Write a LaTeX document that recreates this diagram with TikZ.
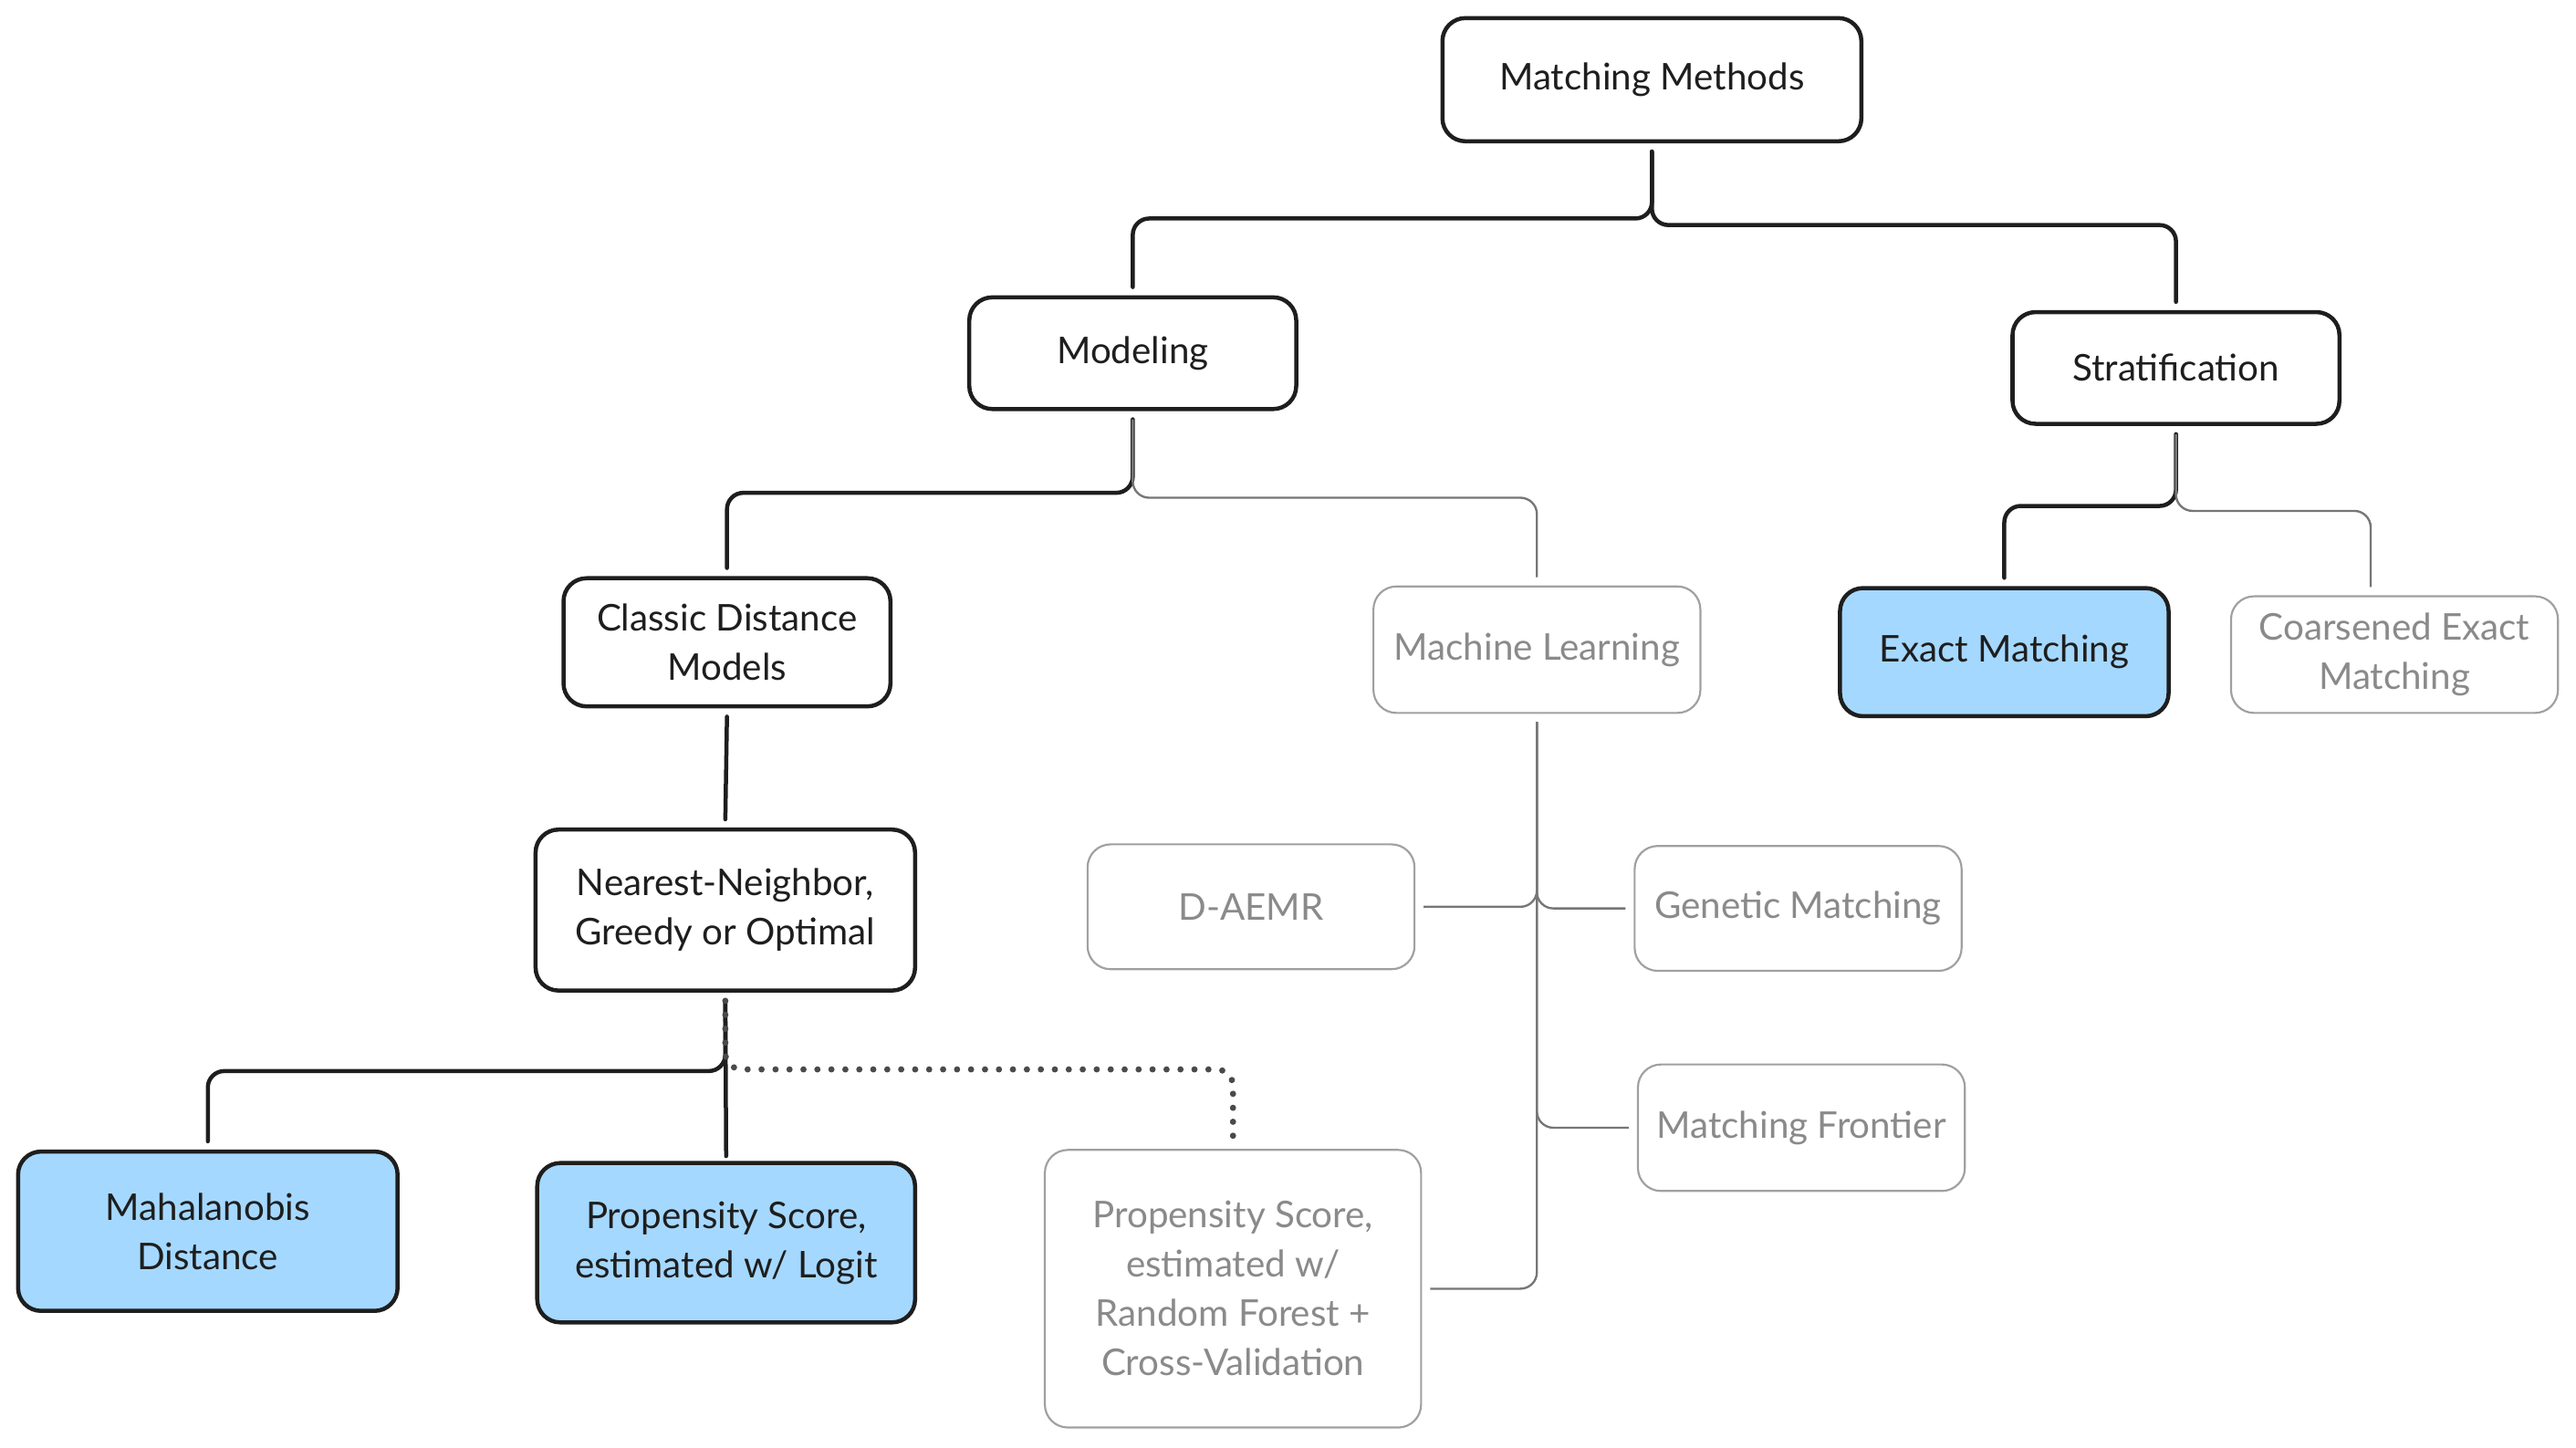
\documentclass[tikz,border=0pt]{standalone}
\usepackage{fontspec}
\setmainfont{Lato}
\begin{document}
\begin{tikzpicture}[x=1pt,y=-1pt,
  base/.style={rounded corners=14pt, inner sep=0pt, align=center,
    font=\fontsize{22.4}{30}\selectfont},
  blk/.style={base, draw=dk, line width=2.5pt, fill=white, text=dk},
  blu/.style={blk, fill=lb},
  gry/.style={base, draw=gb, line width=1.2pt, fill=white, text=gt},
  conn/.style={draw=dk, line width=2.5pt, rounded corners=10pt, line cap=round},
  gconn/.style={draw=gl, line width=1.3pt, rounded corners=10pt},
  dconn/.style={draw=dg, line width=3.8pt, rounded corners=10pt, line cap=round, dash pattern=on 0pt off 8.5pt},
]
\definecolor{dk}{HTML}{1E1E1E}
\definecolor{lb}{HTML}{A5D8FF}
\definecolor{gb}{HTML}{A0A0A0}
\definecolor{gt}{HTML}{8A8A8A}
\definecolor{gl}{HTML}{767676}
\definecolor{dg}{HTML}{4A4A4A}
\fill[white] (0,0) rectangle (1568,881);
\useasboundingbox (0,0) rectangle (1568,881);

\node[blk, minimum width=255pt, minimum height=75pt] (mm) at (1005.5,48.5) {Matching Methods};
\node[blk, minimum width=199pt, minimum height=68pt] (mod) at (689.5,215) {Modeling};
\node[blk, minimum width=199pt, minimum height=68pt] (strat) at (1324.5,224) {Stratification};
\node[blk, minimum width=199pt, minimum height=78pt] (cdm) at (442.5,391) {Classic Distance\\Models};
\node[gry, minimum width=199pt, minimum height=77pt] (ml) at (935.5,395.5) {Machine Learning};
\node[blu, minimum width=200pt, minimum height=78pt] (exact) at (1220,397) {Exact Matching};
\node[gry, minimum width=199pt, minimum height=71pt] (cem) at (1457.5,398.5) {Coarsened Exact\\Matching};
\node[blk, minimum width=231pt, minimum height=98pt] (nn) at (441.5,554) {Nearest-Neighbor,\\Greedy or Optimal};
\node[gry, minimum width=199pt, minimum height=76pt] (daemr) at (761.5,552) {D-AEMR};
\node[gry, minimum width=199pt, minimum height=76pt] (gen) at (1094.5,553) {Genetic Matching};
\node[gry, minimum width=199pt, minimum height=77pt] (mf) at (1096.5,686.5) {Matching Frontier};
\node[blu, minimum width=231pt, minimum height=97pt] (maha) at (126.5,749.5) {Mahalanobis\\Distance};
\node[blu, minimum width=230pt, minimum height=97pt] (psl) at (442,756.5) {Propensity Score,\\estimated w/ Logit};
\node[gry, minimum width=229pt, minimum height=169pt] (psrf) at (750.5,784.5) {Propensity Score,\\estimated w/\\Random Forest +\\Cross-Validation};

\coordinate (h1) at (0,133);
\coordinate (h2) at (0,137);
\coordinate (h3) at (0,300);
\coordinate (h4) at (0,303);
\coordinate (h5) at (0,308);
\coordinate (h6) at (0,311);
\coordinate (h7) at (0,652);
\coordinate (h8) at (0,651);
\coordinate (cemtop) at ([xshift=-14.5pt,yshift=5pt]cem.north);

\draw[conn] ([yshift=-5pt]mm.south) -- (mm.south |- h1) -- (mod.north |- h1) -- ([yshift=5pt]mod.north);
\draw[conn] ([yshift=-5pt]mm.south) -- (mm.south |- h2) -- (strat.north |- h2) -- ([yshift=5pt]strat.north);
\draw[conn] ([yshift=-5pt]mod.south) -- (mod.south |- h3) -- (cdm.north |- h3) -- ([yshift=5pt]cdm.north);
\draw[gconn] ([yshift=-5pt]mod.south) -- (mod.south |- h4) -- (ml.north |- h4) -- ([yshift=5pt]ml.north);
\draw[conn] ([yshift=-5pt]strat.south) -- (strat.south |- h5) -- (exact.north |- h5) -- ([yshift=5pt]exact.north);
\draw[gconn] ([yshift=-5pt]strat.south) -- (strat.south |- h6) -- (cemtop |- h6) -- (cemtop);
\draw[conn] ([yshift=-5pt]cdm.south) -- ([yshift=5pt]nn.north);
\draw[conn] ([yshift=-5pt]nn.south) -- (nn.south |- h7) -- (maha.north |- h7) -- ([yshift=5pt]maha.north);
\draw[conn] ([yshift=-5pt]nn.south) -- ([yshift=3pt]psl.north);
\draw[dconn] ([yshift=-5pt]nn.south) -- (nn.south |- h8) -- (psrf.north |- h8) -- ([yshift=7pt]psrf.north);
\draw[gconn] ([yshift=-5pt]ml.south) -- (ml.south |- daemr) -- ([xshift=5pt]daemr.east);
\draw[gconn] ([yshift=-5pt]ml.south) -- (ml.south |- gen) -- ([xshift=-5pt]gen.west);
\draw[gconn] ([yshift=-5pt]ml.south) -- (ml.south |- mf) -- ([xshift=-5pt]mf.west);
\draw[gconn] ([yshift=-5pt]ml.south) -- (ml.south |- psrf) -- ([xshift=5pt]psrf.east);
\end{tikzpicture}
\end{document}
